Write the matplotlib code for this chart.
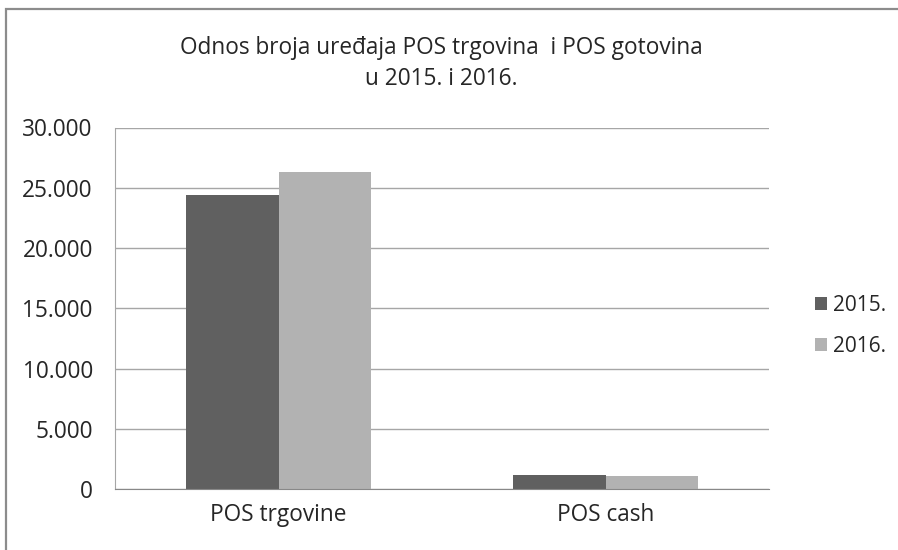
import matplotlib
matplotlib.use("Agg")
import matplotlib.pyplot as plt
import numpy as np
from matplotlib.patches import Rectangle
from matplotlib.ticker import FuncFormatter

categories = ["POS trgovine", "POS cash"]
series_names = ["2015.", "2016."]
values_2015 = [24400, 1200]
values_2016 = [26300, 1100]
colors = ["#606060", "#b2b2b2"]

plt.rcParams["font.family"] = ["Open Sans", "DejaVu Sans"]
text_color = "#262626"
font_size = 16.3

W, H = 898, 550
fig = plt.figure(figsize=(W / 100, H / 100), dpi=100)
ax = fig.add_axes([115 / W, 1 - 489 / H, (769 - 115) / W, (489 - 127.5) / H])

# outer chart border (only top and left edges fall inside the picture)
fig.patches.append(Rectangle((5.5 / W, -0.2), 1.5, (H - 8.5) / H + 0.2,
                             transform=fig.transFigure, fill=False,
                             edgecolor="#8c8c8c", linewidth=1.6))

x = np.arange(len(categories))
width = 0.284
ax.bar(x - width / 2, values_2015, width, color=colors[0], label=series_names[0], zorder=3)
ax.bar(x + width / 2, values_2016, width, color=colors[1], label=series_names[1], zorder=3)

ax.set_xlim(-0.5, 1.5)
ax.set_ylim(0, 30000)
ax.set_yticks(np.arange(0, 30001, 5000))
ax.yaxis.set_major_formatter(FuncFormatter(lambda v, _: f"{int(v):,}".replace(",", ".")))
ax.set_xticks(x)
ax.set_xticklabels(categories)
ax.tick_params(axis="y", length=0, labelsize=font_size, pad=16, labelcolor=text_color)
ax.tick_params(axis="x", length=0, labelsize=font_size, pad=10, labelcolor=text_color)
ax.grid(axis="y", color="#a6a6a6", linewidth=1, zorder=0)
for side in ["top", "right"]:
    ax.spines[side].set_visible(False)
ax.spines["left"].set_color("#a6a6a6")
ax.spines["bottom"].set_color("#888888")
ax.spines["bottom"].set_zorder(4)

fig.text(441 / W, 1 - 48 / H, "Odnos broja uređaja POS trgovina  i POS gotovina",
         ha="center", va="center", fontsize=font_size, color=text_color)
fig.text(441 / W, 1 - 79 / H, "u 2015. i 2016.", ha="center", va="center",
         fontsize=font_size, color=text_color)

fig.legend(loc="center left", bbox_to_anchor=(796 / W, 1 - 326 / H), frameon=False,
           fontsize=15, handlelength=0.6, handleheight=0.6, handletextpad=0.3,
           labelspacing=0.95, labelcolor=text_color)

fig.savefig("out.png", dpi=100)
